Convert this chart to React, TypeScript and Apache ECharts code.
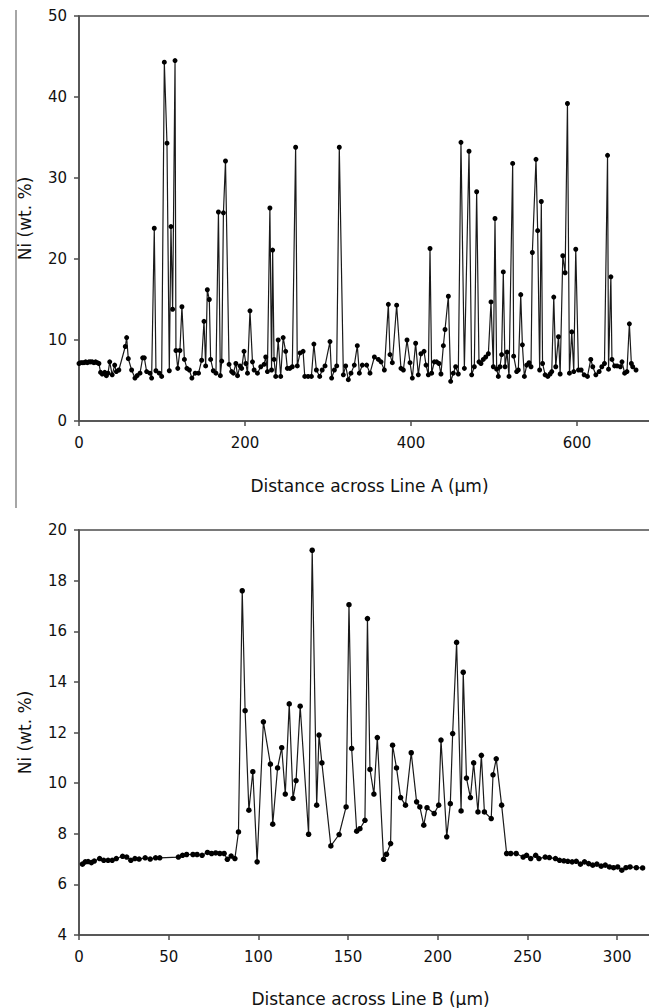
import React, { useEffect, useRef } from "react";
import * as echarts from "echarts";

// Line A (top panel)
const lineADist = [
  0, 2, 4, 6, 8, 10, 12, 14, 16, 18, 20, 22, 24,
  26, 28, 31, 33, 35, 37, 40, 43, 45, 48, 55.8, 57.4, 59.4, 63.4, 67.4, 70, 73.5, 76.7, 78.7, 81.5, 85.5, 87.5,
  90.7, 92.7, 96.7, 99.6, 102.8, 106, 108.8, 110.8, 112.8, 115.7, 116.8, 119, 121.6, 124, 127, 130, 133, 136, 140, 144,
  147.8, 150.6, 152.6, 154.6, 157, 158.6, 161.8, 165, 168, 170.3, 172, 174, 176.5, 180.8, 183.9, 186, 189, 191, 194, 196,
  198.8, 201, 203, 206, 209, 211, 215, 219, 223, 225, 227, 230, 232, 233.3, 235, 237, 240, 243, 246, 249, 251, 254, 257,
  261, 263, 266.4, 270, 272, 276, 280, 283, 286, 290, 293,
  296.4, 302.4, 304.4, 307.7, 310.5, 313.6, 318.5, 321.3, 324.5, 327.7, 331.7, 335.3, 337.8, 341.3, 346.6, 350.6, 355.9,
  360.7, 363.9, 367.9, 372.7, 374.7, 377.5, 382.7, 387.9, 390.8, 395.2, 398.8, 401.6, 405.6, 408.8, 412, 415.7, 418.1,
  420.9, 422.9, 424.9, 428.1, 430.9, 433.7, 436.1, 439, 441, 445, 447.8, 451, 453.8, 457, 460.2, 464.3, 469.9, 473.1,
  476.3, 479.1, 481.9, 484.3, 487.1, 490, 493.2, 496.4, 499.2, 501.2, 503.2, 505.2, 507.2, 509.2, 511.2, 513.3, 515.7,
  518.1, 522.5, 523.7, 527.3, 529.3, 532.2, 534.2, 536.6, 539.4, 542.2, 544.6, 546.2, 550.6, 552.6, 555, 557, 558.5,
  561.6, 564.8, 567.6, 569.6, 572, 574.4, 577.7, 579.7, 582.9, 585.7, 588.5, 590.9, 593.7, 596.1, 598.5, 601.8, 605,
  608.6, 612.6, 616.6, 619, 622.7, 626.7, 629.9, 633.1, 636.8, 638, 640.8, 642.1, 645.3, 648.2, 652.2, 654.2, 657.4,
  660.2, 663.1, 665.5, 667.1, 671.1,
];
const lineANi = [
  7.1, 7.2, 7.2, 7.2, 7.3, 7.2, 7.3, 7.3, 7.3, 7.2, 7.3, 7.2, 7.1,
  6.0, 5.8, 6.0, 5.6, 5.9, 7.3, 5.7, 6.9, 6.1, 6.3, 9.2, 10.3, 7.7, 6.3, 5.3, 5.6, 5.9, 7.8, 7.8, 6.1, 5.9, 5.3,
  23.8, 6.2, 5.9, 5.5, 44.3, 34.3, 6.2, 24.0, 13.8, 44.5, 8.7, 6.5, 8.7, 14.1, 7.6, 6.5, 6.3, 5.3, 5.9, 5.9,
  7.5, 12.3, 6.8, 16.2, 15.0, 7.6, 6.2, 5.9, 25.8, 5.6, 7.4, 25.7, 32.1, 7.0, 6.1, 5.9, 7.1, 5.6, 6.8, 6.5,
  8.6, 7.1, 5.9, 13.6, 7.3, 6.3, 5.9, 6.7, 7.0, 7.9, 6.1, 26.3, 6.3, 21.1, 7.6, 5.5, 10.0, 5.5, 10.3, 8.6, 6.5, 6.5, 6.7,
  33.8, 6.8, 8.4, 8.6, 5.5, 5.5, 5.5, 9.5, 6.3, 5.5, 6.3,
  6.8, 9.8, 5.3, 6.3, 6.8, 33.8, 5.7, 6.8, 5.1, 5.9, 6.9, 9.3, 5.9, 6.9, 6.9, 5.9, 7.9,
  7.6, 7.3, 6.3, 14.4, 8.2, 7.2, 14.3, 6.5, 6.3, 10.0, 7.2, 5.3, 9.6, 5.7, 8.3, 8.6, 6.9,
  5.7, 21.3, 5.9, 7.3, 7.3, 7.1, 5.8, 9.3, 11.3, 15.4, 4.9, 5.9, 6.7, 5.8, 34.4, 6.5, 33.3, 5.7,
  6.7, 28.3, 7.3, 7.1, 7.6, 7.9, 8.3, 14.7, 6.7, 25.0, 6.4, 5.5, 6.7, 8.2, 18.4, 6.7, 8.5,
  5.5, 31.8, 8.0, 6.1, 6.3, 15.6, 9.4, 5.5, 6.9, 7.2, 6.7, 20.8, 32.3, 23.5, 6.3, 27.1, 7.1,
  5.7, 5.5, 5.8, 6.1, 15.3, 6.7, 10.4, 5.8, 20.4, 18.3, 39.2, 5.9, 11.0, 6.1, 21.2, 6.3, 6.3,
  5.7, 5.5, 7.6, 6.7, 5.7, 6.1, 6.7, 7.1, 32.8, 6.4, 17.8, 7.6, 6.8, 6.8, 6.7, 7.3, 5.9,
  6.1, 12.0, 7.1, 6.7, 6.3,
];

// Line B (bottom panel)
const lineBDist = [
  1.9, 3.5, 5.1, 6.9, 8.5, 11.5, 13.8, 16.2, 18.5, 20.8, 24.3, 26.6, 28.9, 31.2, 33.5, 36.9, 39.7, 42.7, 45,
  55.4, 57.7, 60, 63.5, 65.8, 68.6, 71.6, 73.9, 76.2, 78.5, 80.9, 82.7, 84.8, 86.9, 88.9, 91, 92.6, 94.7, 96.9,
  99.3, 102.8, 106.7, 108, 110.7, 113, 115, 117.2, 119.3, 121, 123.3, 128, 130, 132.5, 133.8, 135.4, 140.4, 145,
  148.9, 150.5, 152, 154.8, 156.6, 159.4, 160.8, 162.2, 164.4, 166.3, 169.8, 171.4, 173.7, 174.8, 177, 179.3, 182,
  185.2, 188.2, 190, 192.2, 194, 198, 200.5, 201.8, 205, 207, 208.3, 210.5, 213, 214.2, 216, 218.2, 220, 222.4,
  224.3, 226, 229.8, 230.8, 232.6, 235.6, 238.4, 240.7, 243.7, 247.6, 249.5, 251.8, 254.6, 256.4, 259.9, 262.2,
  265.6, 267.9, 270.3, 272.5, 274.9, 277.2, 279.5, 281.8, 284.1, 286.4, 288.7, 291.1, 293.4, 295.7, 298, 300.3,
  302.6, 304.9, 307.2, 310.7, 314.2,
];
const lineBNi = [
  6.8, 6.89, 6.9, 6.86, 6.92, 7.02, 6.95, 6.95, 6.95, 7.02, 7.11, 7.08, 6.95, 7.02, 7.0, 7.05, 7.0, 7.05, 7.05,
  7.08, 7.15, 7.18, 7.18, 7.18, 7.15, 7.26, 7.22, 7.24, 7.22, 7.22, 6.99, 7.12, 7.02, 8.07, 17.6, 12.86, 8.93, 10.45,
  6.89, 12.42, 10.75, 8.38, 10.6, 11.4, 9.57, 13.13, 9.4, 10.1, 13.04, 7.98, 19.2, 9.13, 11.9, 10.8, 7.52, 7.97,
  9.06, 17.05, 11.37, 8.1, 8.2, 8.53, 16.5, 10.54, 9.57, 11.8, 6.99, 7.19, 7.61, 11.5, 10.6, 9.43, 9.13,
  11.2, 9.26, 9.06, 8.34, 9.03, 8.8, 9.13, 11.7, 7.88, 9.19, 11.96, 15.56, 8.9, 14.38, 10.2, 9.43, 10.8, 8.86,
  11.1, 8.86, 8.6, 10.33, 10.96, 9.13, 7.22, 7.22, 7.22, 7.08, 7.15, 7.02, 7.15, 7.02, 7.08, 7.06,
  7.02, 6.95, 6.93, 6.91, 6.89, 6.91, 6.8, 6.89, 6.82, 6.76, 6.8, 6.72, 6.76, 6.69, 6.66, 6.69,
  6.56, 6.66, 6.69, 6.66, 6.65,
];

const yTicksA = { min: 0, max: 50, interval: 10 };
const xTicksA = { min: 0, max: 700, interval: 200 };
const yTicksB = { min: 4, max: 20, interval: 2 };
const xTicksB = { min: 0, max: 325, interval: 50 };

const FONT = "DejaVu Sans";
const AXIS_COLOR = "#4d4d4d";

function axisCommon() {
  return {
    axisLine: { show: true, lineStyle: { color: AXIS_COLOR, width: 1.5 } },
    axisTick: { show: true, inside: false, length: 5, lineStyle: { color: AXIS_COLOR, width: 1.5 } },
    splitLine: { show: false },
    nameTextStyle: { fontFamily: FONT, fontSize: 17, color: "#111" },
  };
}

export default function App() {
  const ref = useRef<HTMLDivElement>(null);
  useEffect(() => {
    if (!ref.current) return;
    const chart = echarts.init(ref.current, undefined, { renderer: "svg" });
    const zip = (xs: number[], ys: number[]) => xs.map((x, i) => [x, ys[i]]);
    chart.setOption({
      animation: false,
      backgroundColor: "#fff",
      grid: [
        { left: 79, top: 16, width: 581, height: 405, show: true, borderColor: AXIS_COLOR, borderWidth: 1.5, outerBoundsMode: "none", containLabel: false },
        { left: 79, top: 530, width: 583, height: 405, show: true, borderColor: AXIS_COLOR, borderWidth: 1.5, outerBoundsMode: "none", containLabel: false },
      ],
      xAxis: [
        {
          type: "value", gridIndex: 0, ...xTicksA, ...axisCommon(),
          name: "Distance across Line A (\u03bcm)", nameLocation: "middle", nameGap: 56,
          axisLabel: { fontFamily: FONT, fontSize: 15, color: "#111", margin: 14, showMaxLabel: false },
        },
        {
          type: "value", gridIndex: 1, ...xTicksB, ...axisCommon(),
          name: "Distance across Line B (\u03bcm)", nameLocation: "middle", nameGap: 55,
          axisLabel: { fontFamily: FONT, fontSize: 15, color: "#111", margin: 14, showMaxLabel: false },
        },
      ],
      yAxis: [
        {
          type: "value", gridIndex: 0, ...yTicksA, ...axisCommon(),
          name: "Ni (wt. %)", nameLocation: "middle", nameGap: 46,
          axisLabel: { fontFamily: FONT, fontSize: 15, color: "#111", margin: 12 },
        },
        {
          type: "value", gridIndex: 1, ...yTicksB, ...axisCommon(),
          name: "Ni (wt. %)", nameLocation: "middle", nameGap: 46,
          axisLabel: { fontFamily: FONT, fontSize: 15, color: "#111", margin: 12 },
        },
      ],
      graphic: [
        { type: "line", shape: { x1: 16, y1: 10, x2: 16, y2: 508 }, style: { stroke: "#888", lineWidth: 1.5 } },
      ],
      series: [
        {
          type: "line", xAxisIndex: 0, yAxisIndex: 0, data: zip(lineADist, lineANi),
          symbol: "circle", symbolSize: 5, showAllSymbol: true,
          lineStyle: { color: "#1a1a1a", width: 1.2 }, itemStyle: { color: "#000" },
        },
        {
          type: "line", xAxisIndex: 1, yAxisIndex: 1, data: zip(lineBDist, lineBNi),
          symbol: "circle", symbolSize: 5.5, showAllSymbol: true,
          lineStyle: { color: "#1a1a1a", width: 1.2 }, itemStyle: { color: "#000" },
        },
      ],
    });
    return () => chart.dispose();
  }, []);
  return (
    <div style={{ position: "absolute", left: 0, top: 0, width: 649, height: 1008, overflow: "hidden", background: "#fff" }}>
      <div ref={ref} style={{ width: 690, height: 1008 }} />
    </div>
  );
}
